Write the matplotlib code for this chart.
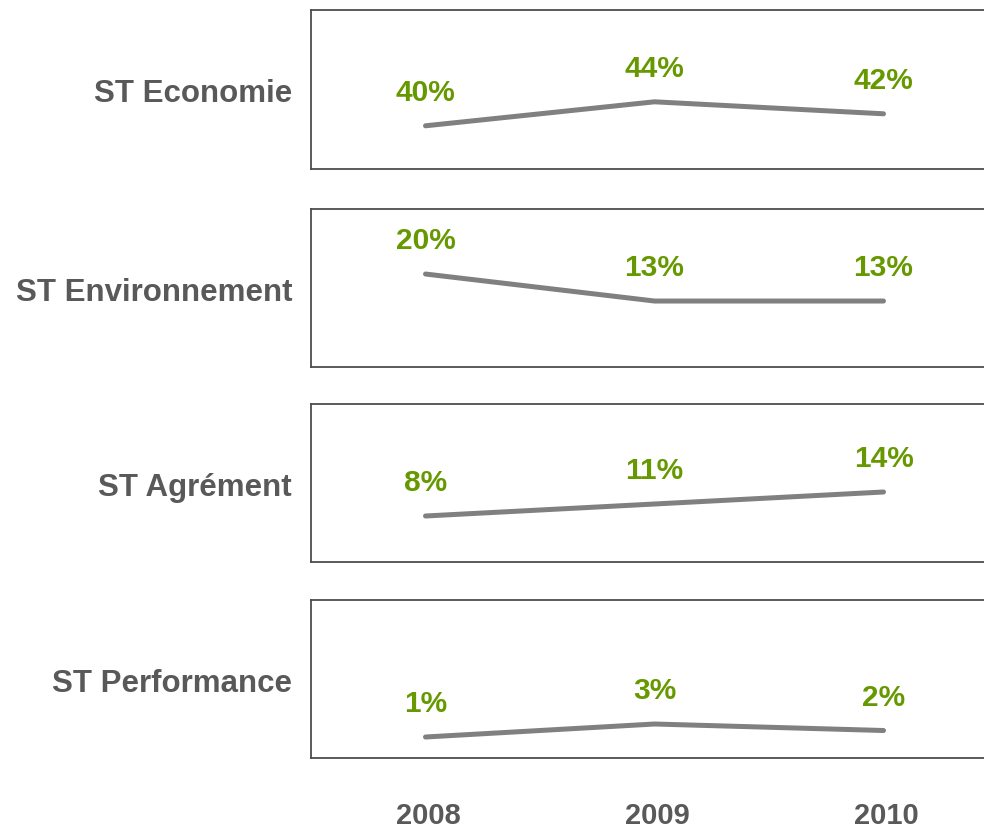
import matplotlib
matplotlib.use("Agg")
import matplotlib.pyplot as plt
from matplotlib import font_manager

years = [2008, 2009, 2010]
categories = ["ST Economie", "ST Environnement", "ST Agrément", "ST Performance"]
values = [
    [40, 44, 42],
    [20, 13, 13],
    [8, 11, 14],
    [1, 3, 2],
]
# per-panel value ranges (layout)
ylims = [(32.8, 59.3), (-4.1, 36.85), (-3.5, 36.0), (-2.23, 22.08)]

names = {f.name for f in font_manager.fontManager.ttflist}
narrow = "Liberation Sans Narrow" if "Liberation Sans Narrow" in names else "Liberation Sans"

W, H = 984, 832
fig = plt.figure(figsize=(W / 100, H / 100), dpi=100)
fig.patch.set_facecolor("white")

panels_px = [(10, 169), (209, 367), (404, 562), (600, 758)]
left_px, right_px = 311, 998
gray_txt = "#595959"
green = "#669900"
line_col = "#808080"

for i, (cat, vals) in enumerate(zip(categories, values)):
    top, bot = panels_px[i]
    ax = fig.add_axes([left_px / W, 1 - bot / H, (right_px - left_px) / W, (bot - top) / H])
    ax.plot(years, vals, color=line_col, lw=3.6, solid_capstyle="round",
            solid_joinstyle="round")
    ax.set_xlim(2007.5, 2010.5)
    ax.set_ylim(*ylims[i])
    ax.set_xticks([])
    ax.set_yticks([])
    for s in ax.spines.values():
        s.set_color("#4d4d4d")
        s.set_linewidth(1.3)
    for x, v in zip(years, vals):
        ax.annotate(f"{v}%", (x, v), xytext=(0, 33), textcoords="offset pixels",
                    ha="center", va="center", color=green, fontsize=21.5,
                    fontweight="bold", family=[narrow, "DejaVu Sans"])
    fig.text(292 / W, 1 - ((top + bot) / 2 + 5) / H, cat, ha="right", va="center",
             fontsize=22.5, fontweight="bold", color=gray_txt,
             family=["Liberation Sans", "DejaVu Sans"])

# year labels below
axl = fig.axes[-1]
for x in years:
    axl.annotate(str(x), (x, 0), xycoords=("data", "figure fraction"),
                 xytext=(3, 832 - 816), textcoords="offset pixels",
                 ha="center", va="center", fontsize=21, fontweight="bold",
                 color=gray_txt, family=["Liberation Sans", "DejaVu Sans"])

fig.savefig("out.png", dpi=100)
